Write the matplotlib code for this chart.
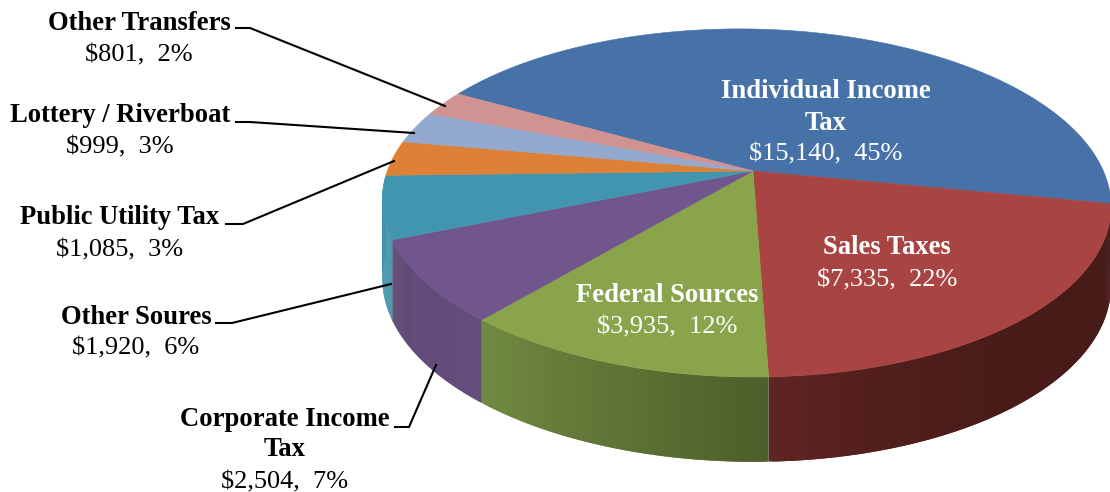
import numpy as np
import matplotlib
matplotlib.use("Agg")
import matplotlib.pyplot as plt
from matplotlib.patches import Polygon
from matplotlib.colors import to_rgb

categories = ["Individual Income Tax", "Sales Taxes", "Federal Sources", "Corporate Income Tax",
              "Other Soures", "Public Utility Tax", "Lottery / Riverboat", "Other Transfers"]
values = [15140, 7335, 3935, 2504, 1920, 1085, 999, 801]
percents = [45, 22, 12, 7, 6, 3, 3, 2]
top_colors = ["#4672a8", "#a84542", "#89a44b", "#71568e", "#4295ae", "#dd8136", "#93a9cf", "#d09392"]
side_left = ["#4672a8", "#5f2423", "#718a41", "#5f4875", "#3f93aa", "#dd8136", "#93a9cf", "#d09392"]
side_right = ["#4672a8", "#471b18", "#4d5f2a", "#654d7c", "#3f93aa", "#dd8136", "#93a9cf", "#d09392"]

plt.rcParams["font.family"] = ["Liberation Serif", "DejaVu Serif"]
fig = plt.figure(figsize=(11.1, 4.92), dpi=100)
ax = fig.add_axes([0, 0, 1, 1])
ax.set_xlim(0, 1110)
ax.set_ylim(492, 0)
ax.axis("off")

CX, CY, R, S, K, L = 753, 171, 358, 168.1, 0.184, 0.017
D, KD = 78, 0.08
START = 152
SHEAR = 4


def project(a):
    u, v = np.cos(np.radians(a)), np.sin(np.radians(a))
    w = 1 + K * v + L * u
    return CX + R * u / w, CY - S * v / w + SHEAR * u / w, D / (1 + KD * v)


fr = np.array(values) / np.sum(values)
ends = START - np.cumsum(fr) * 360
starts = np.r_[START, ends[:-1]]

# side wall: overlapping thin strips shaded along the arc
for i in range(len(values)):
    a = np.linspace(starts[i], ends[i], 140)
    x, y, d = project(a)
    c_r, c_l = np.array(to_rgb(side_right[i])), np.array(to_rgb(side_left[i]))
    gamma = 4 if i == 1 else 1
    for j in range(len(a) - 2):
        if np.sin(np.radians(a[j])) > -0.06:
            continue
        t = (j / (len(a) - 3)) ** gamma
        col = c_r * (1 - t) + c_l * t
        ax.add_patch(Polygon([(x[j], y[j]), (x[j + 2], y[j + 2]),
                              (x[j + 2], y[j + 2] + d[j + 2]), (x[j], y[j] + d[j])],
                             closed=True, fc=col, ec="none", zorder=1))

# top face
for i in range(len(values)):
    a = np.linspace(starts[i], ends[i], 120)
    x, y, _ = project(a)
    ax.add_patch(Polygon(np.c_[np.r_[CX, x], np.r_[CY, y]], closed=True,
                         fc=top_colors[i], ec=top_colors[i], lw=0.4, zorder=2))

# labels
BOLD, REG = 19.2, 19.0


def money(i):
    return f"${values[i]:,},  {percents[i]}%"


inside = [(0, 826, ["Individual Income", "Tax"], [91, 123], 154),
          (1, 887, ["Sales Taxes"], [248], 280),
          (2, 667, ["Federal Sources"], [295], 327)]
for i, xc, lines, ys, ym in inside:
    for s, yy in zip(lines, ys):
        ax.text(xc, yy, s, color="white", fontweight="bold", fontsize=BOLD, ha="center", va="center", zorder=5)
    ax.text(xc, ym, money(i), color="white", fontsize=REG, ha="center", va="center", zorder=5)

outside = [(7, 139, ["Other Transfers"], [24], 55),
           (6, 120, ["Lottery / Riverboat"], [116], 147),
           (5, 120, ["Public Utility Tax"], [218], 250),
           (4, 136, ["Other Soures"], [318], 348),
           (3, 285, ["Corporate Income", "Tax"], [419, 450], 482)]
for i, xc, lines, ys, ym in outside:
    for s, yy in zip(lines, ys):
        ax.text(xc, yy, s, color="black", fontweight="bold", fontsize=BOLD, ha="center", va="center", zorder=5)
    ax.text(xc, ym, money(i), color="black", fontsize=REG, ha="center", va="center", zorder=5)

leaders = [([236, 250, 445], [28, 28, 106]),
           ([236, 250, 414], [122, 122, 133]),
           ([226, 243, 394], [224, 224, 161]),
           ([216, 232, 391], [323, 323, 284]),
           ([395, 409, 436], [427, 427, 365])]
for lx, ly in leaders:
    ax.plot(lx, ly, color="black", lw=1.5, zorder=4, solid_joinstyle="miter")

fig.savefig("out.png", dpi=100)
